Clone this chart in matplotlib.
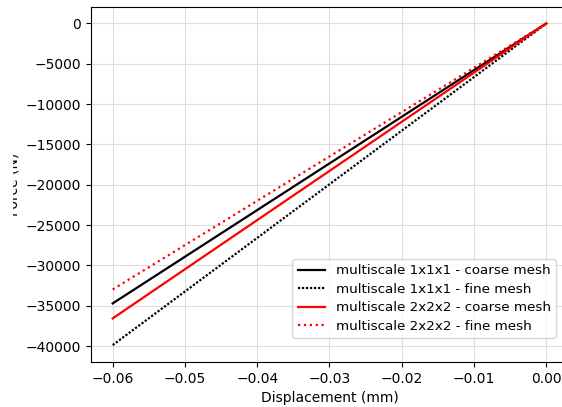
import matplotlib
matplotlib.use("Agg")
import matplotlib.pyplot as plt
from matplotlib.transforms import Bbox, TransformedBbox

displacement = [-0.06, 0.0]
force_1x1x1_coarse = [-34710, 0]
force_1x1x1_fine = [-39880, 0]
force_2x2x2_coarse = [-36570, 0]
force_2x2x2_fine = [-32980, 0]

W, H = 562, 407
fig = plt.figure(figsize=(W / 100, H / 100), dpi=100)
left, right, top, bottom = 91, 568, 7.3, 362.2
ax = fig.add_axes([left / W, 1 - bottom / H, (right - left) / W, (bottom - top) / H])

ax.plot(displacement, force_1x1x1_coarse, color='black', linestyle='-', lw=1.6,
        label='multiscale 1x1x1 - coarse mesh')
ax.plot(displacement, force_1x1x1_fine, color='black', linestyle=(0, (1, 0.8)), lw=1.6,
        label='multiscale 1x1x1 - fine mesh')
ax.plot(displacement, force_2x2x2_coarse, color='red', linestyle='-', lw=1.6,
        label='multiscale 2x2x2 - coarse mesh')
ax.plot(displacement, force_2x2x2_fine, color='red', linestyle=':', lw=1.6,
        label='multiscale 2x2x2 - fine mesh')

ax.set_xlim(-0.063, 0.003)
ax.set_ylim(-42000, 2000)
ax.set_yticks(range(-40000, 1, 5000))
ax.set_xlabel('Displacement (mm)')
ax.set_ylabel('Force (N)')
ax.grid(True, color='#dddddd', lw=0.8)
ax.legend(loc='lower right', bbox_to_anchor=(556 / W, 1 - 338 / H),
          bbox_transform=fig.transFigure, borderaxespad=0, fontsize=9.7,
          labelspacing=0.4)

lbl = ax.yaxis.label
fig.canvas.draw()
lbl.set_clip_box(TransformedBbox(Bbox([[13 / W, 0], [1, 1]]), fig.transFigure))
lbl.set_clip_on(True)

fig.savefig('out.png', dpi=100)
